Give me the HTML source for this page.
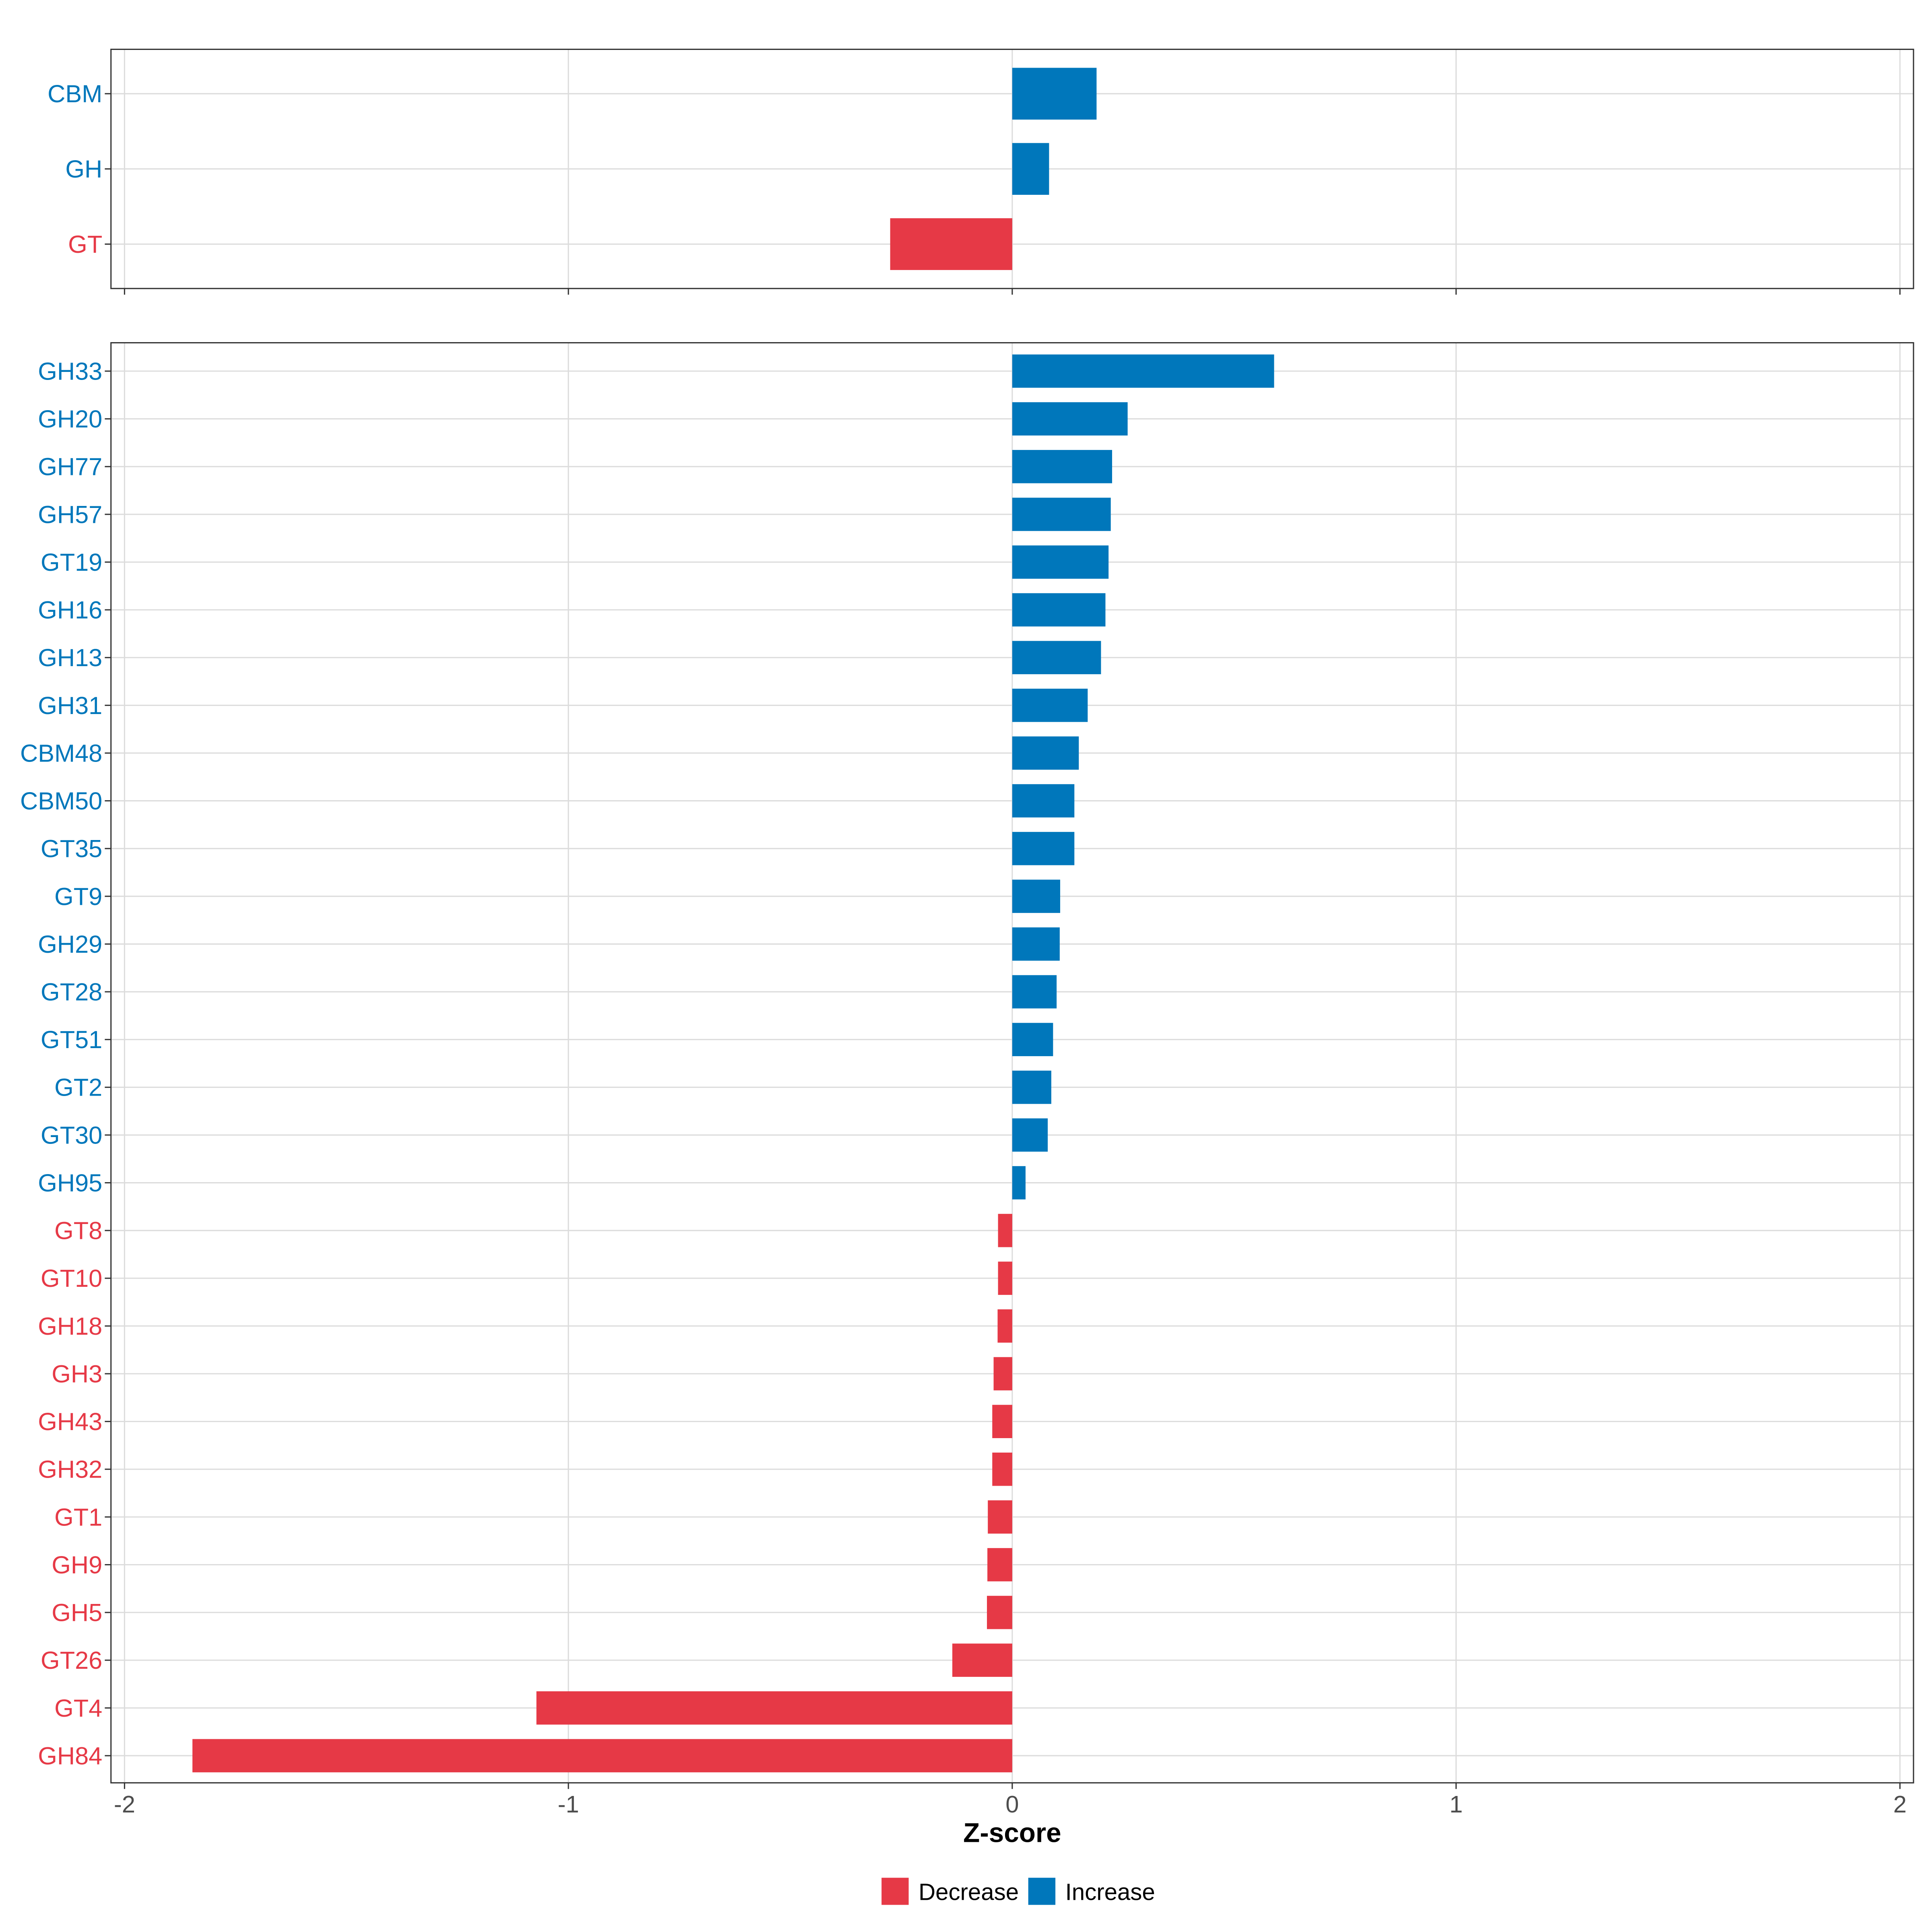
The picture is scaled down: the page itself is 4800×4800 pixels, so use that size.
<!DOCTYPE html>
<html><head><meta charset="utf-8"><style>
html,body{margin:0;padding:0;background:#fff}
svg{display:block}
text{font-family:"Liberation Sans",sans-serif}
</style></head><body>
<svg id="chart" xmlns="http://www.w3.org/2000/svg" width="4800" height="4800" viewBox="0 0 1567 1567">
<g id="top"></g>
<g id="bottom"></g>
<text x="821" y="1494" text-anchor="middle" font-size="22" font-weight="bold">Z-score</text>
<g>
<rect x="715" y="1523" width="22" height="22" fill="#E63946"/>
<text x="745" y="1541" font-size="19">Decrease</text>
<rect x="834" y="1523" width="22" height="22" fill="#0077BB"/>
<text x="864" y="1541" font-size="19">Increase</text>
</g>
</svg>
<script>
const topCategories=["CBM","GH","GT"];
const topValues=[0.19,0.083,-0.275];
const botCategories=["GH33","GH20","GH77","GH57","GT19","GH16","GH13","GH31","CBM48","CBM50","GT35","GT9","GH29","GT28","GT51","GT2","GT30","GH95","GT8","GT10","GH18","GH3","GH43","GH32","GT1","GH9","GH5","GT26","GT4","GH84"];
const botValues=[0.59,0.26,0.225,0.222,0.217,0.21,0.2,0.17,0.15,0.14,0.14,0.108,0.107,0.1,0.092,0.088,0.08,0.03,-0.032,-0.032,-0.033,-0.042,-0.045,-0.045,-0.055,-0.056,-0.057,-0.135,-1.072,-1.847];
const xTicks=[-2,-1,0,1,2];
const xTickLabels=["-2","-1","0","1","2"];
const NS="http://www.w3.org/2000/svg";
const BLUE="#0077BB",RED="#E63946";
function xs(v){return 821+v*360;}
function mk(tag,attrs,parent){const e=document.createElementNS(NS,tag);for(const k in attrs)e.setAttribute(k,attrs[k]);parent.appendChild(e);return e;}
function panel(g,cats,vals,y0,y1,firstY,step,half,showLabels){
  mk("rect",{x:90,y:y0,width:1462,height:y1-y0,fill:"#fff"},g);
  xTicks.forEach(t=>{const l=mk("line",{x1:xs(t),x2:xs(t),y1:y0,y2:y1,stroke:"#dcdcdc","stroke-width":1},g);
    
    });
  cats.forEach((c,i)=>{const y=firstY+i*step;
    const l=mk("line",{x1:90,x2:1552,y1:y,y2:y,stroke:"#dcdcdc","stroke-width":1},g);
    
    });
  cats.forEach((c,i)=>{const y=firstY+i*step;const v=vals[i];const col=v>=0?BLUE:RED;
    const r=mk("rect",{x:Math.min(xs(0),xs(v)),y:y-half,width:Math.abs(xs(v)-xs(0)),height:2*half,fill:col},g);
    
    
    mk("line",{x1:85,x2:90,y1:y,y2:y,stroke:"#333","stroke-width":1},g);
    const t=mk("text",{x:83,y:y+7,"text-anchor":"end","font-size":20,fill:col},g);
    t.textContent=c;
    
    });
  mk("rect",{x:90,y:y0,width:1462,height:y1-y0,fill:"none",stroke:"#333","stroke-width":1},g);
  xTicks.forEach((t,i)=>{mk("line",{x1:xs(t),x2:xs(t),y1:y1,y2:y1+5,stroke:"#333","stroke-width":1},g);
    if(showLabels){const tx=mk("text",{x:xs(t),y:y1+24,"text-anchor":"middle","font-size":19.5,fill:"#4d4d4d"},g);
      tx.textContent=xTickLabels[i];
      
      }});
}
panel(document.getElementById("top"),topCategories,topValues,40,234,76,61,21,false);
panel(document.getElementById("bottom"),botCategories,botValues,278,1446,301,(1424-301)/29,13.5,true);
</script>
</body></html>
